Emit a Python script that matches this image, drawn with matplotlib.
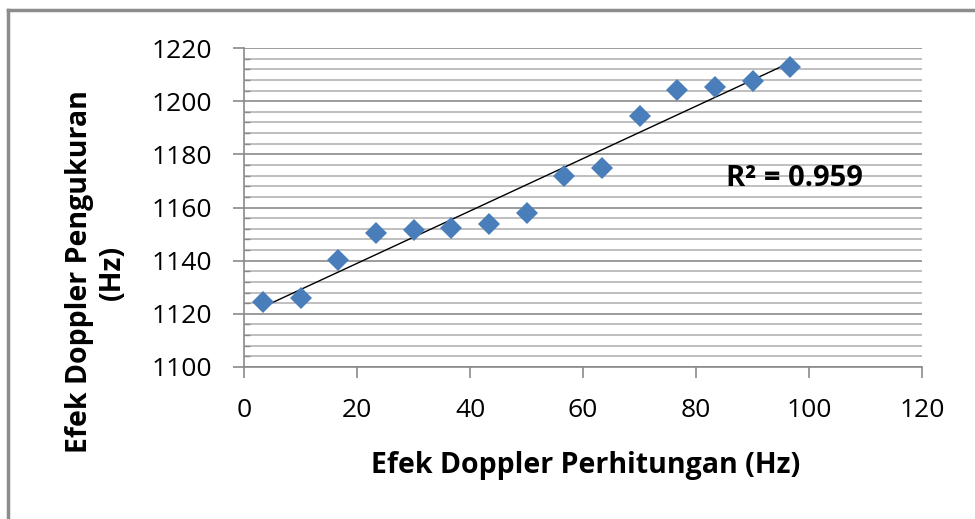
import numpy as np
import matplotlib
matplotlib.use("Agg")
import matplotlib.pyplot as plt
from matplotlib.lines import Line2D
from matplotlib.ticker import MultipleLocator

plt.rcParams['font.family'] = ['Open Sans', 'DejaVu Sans']

# data
perhitungan = [3.3, 10.0, 16.7, 23.3, 30.0, 36.7, 43.3, 50.0, 56.7, 63.3, 70.0, 76.7, 83.3, 90.0, 96.7]
pengukuran = [1124.5, 1126.0, 1140.3, 1150.5, 1151.6, 1152.3, 1153.8, 1158.0,
              1171.9, 1174.9, 1194.4, 1204.2, 1205.3, 1207.6, 1212.9]
x_ticks = [0, 20, 40, 60, 80, 100, 120]
y_ticks = [1100, 1120, 1140, 1160, 1180, 1200, 1220]
r2_text = "R² = 0.959"

fig = plt.figure(figsize=(9.75, 5.19), dpi=100)
ax = fig.add_axes([244/975, 1-367/519, 678/975, 319/519])

# trend line
k, b = np.polyfit(perhitungan, pengukuran, 1)
xs = np.array([min(perhitungan), max(perhitungan)])
ax.plot(xs, k*xs + b, color='black', lw=1.0, zorder=3)

ax.plot(perhitungan, pengukuran, 'D', color='#4a7ebb', markersize=11, markeredgewidth=0, zorder=4)

ax.set_xlim(0, 120)
ax.set_ylim(1100, 1220)
ax.set_xticks(x_ticks)
ax.set_yticks(y_ticks)
ax.yaxis.set_minor_locator(MultipleLocator(4))

ax.grid(axis='y', which='major', color='#8a8a8a', lw=1.2)
ax.grid(axis='y', which='minor', color='#b4b4b4', lw=1.2)
ax.set_axisbelow(True)

for s in ['top', 'right']:
    ax.spines[s].set_visible(False)
for s in ['left', 'bottom']:
    ax.spines[s].set_color('#8a8a8a')
    ax.spines[s].set_linewidth(1.2)

ax.tick_params(axis='x', which='major', length=8, width=1.2, color='#8a8a8a', pad=14, labelsize=19)
ax.tick_params(axis='y', which='major', length=8, width=1.2, color='#8a8a8a', pad=15, labelsize=19)
ax.tick_params(axis='y', which='minor', direction='in', length=4, width=1, color='#8a8a8a')

ax.text(97.5, 1171, r2_text, fontsize=21, fontweight='bold', ha='center', va='center')

fig.text(586/975, 1-466/519, "Efek Doppler Perhitungan (Hz)", fontsize=20.5, fontweight='bold',
         ha='center', va='center')
fig.text(96/975, 1-272/519, "Efek Doppler Pengukuran\n(Hz)", fontsize=20.5, fontweight='bold',
         ha='center', va='center', rotation=90, linespacing=1.15)

# outer chart border
fig.add_artist(Line2D([8/975, 8/975], [0, 1-10/519], color='#8c8c8c', lw=2.5))
fig.add_artist(Line2D([8/975, 1], [1-10/519, 1-10/519], color='#8c8c8c', lw=2.5))

fig.savefig("out.png", dpi=100)
